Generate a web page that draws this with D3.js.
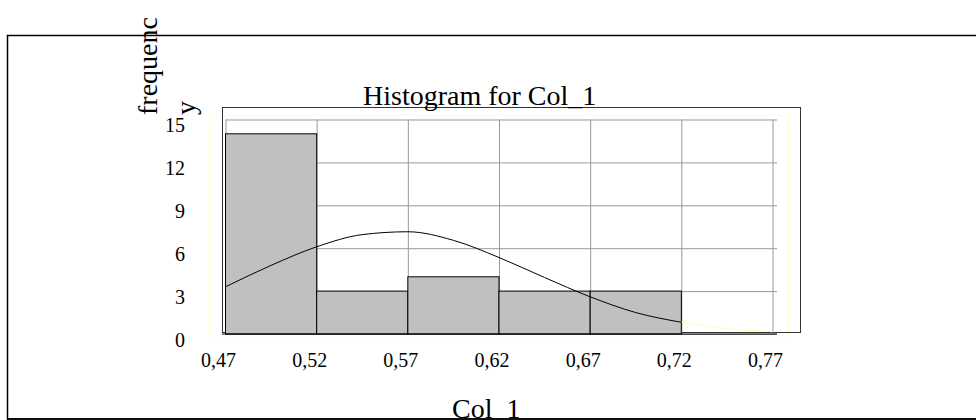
<!DOCTYPE html>
<html>
  <head>
    <meta charset="utf-8" />
    <title>Histogram for Col_1</title>
    <script src="https://d3js.org/d3.v7.min.js"></script>
    <style>
      body {
        margin: 0;
        background: #fff;
      }
      svg text {
        font-family: "Liberation Serif", "Times New Roman", serif;
        fill: #000;
      }
      .grid line {
        stroke: #999;
        stroke-width: 1;
      }
      .grid .domain {
        display: none;
      }
      .bar {
        fill: #c0c0c0;
        stroke: #000;
        stroke-width: 1;
      }
    </style>
  </head>
  <body>
    <svg id="chart" width="976" height="420"></svg>

    <script>
      // bins of Col_1 and their counts
      const binStarts = [0.47, 0.52, 0.57, 0.62, 0.67, 0.72];
      const binWidth = 0.05;
      const counts = [14, 3, 4, 3, 3, 0];

      // fitted normal curve
      const curveX = [0.47, 0.495, 0.52, 0.545, 0.57, 0.595, 0.62, 0.645, 0.67, 0.695, 0.72];
      const curveY = [3.3, 4.8, 6.1, 6.95, 7.15, 6.55, 5.35, 3.95, 2.6, 1.5, 0.82];
      // pale tail past the last bin
      const tailX = [0.72, 0.745, 0.77];
      const tailY = [0.82, 0.38, 0.16];

      const xTicks = [0.47, 0.52, 0.57, 0.62, 0.67, 0.72, 0.77];
      const yTicks = [0, 3, 6, 9, 12, 15];

      const svg = d3.select("#chart");

      // outer frame (right side runs off the page)
      svg
        .append("path")
        .attr("d", "M990,35.5 L7.5,35.5 L7.5,419 L990,419")
        .attr("fill", "none")
        .attr("stroke", "#000")
        .attr("stroke-width", 1.5);

      const x = d3.scaleLinear().domain([0.47, 0.77]).range([225.5, 772.5]);
      const y = d3.scaleLinear().domain([0, 15]).range([334, 119.5]);

      // faint yellow plot-area outline
      svg
        .append("rect")
        .attr("x", 210.5)
        .attr("y", 115.5)
        .attr("width", 578)
        .attr("height", 224)
        .attr("fill", "none")
        .attr("stroke", "#ffffd0")
        .attr("stroke-width", 1);

      // plot frame
      svg
        .append("rect")
        .attr("x", 222.5)
        .attr("y", 107.5)
        .attr("width", 578)
        .attr("height", 225)
        .attr("fill", "none")
        .attr("stroke", "#333")
        .attr("stroke-width", 1);

      // horizontal grid + y labels
      const yAxis = svg
        .append("g")
        .attr("class", "grid")
        .attr("transform", "translate(225.5,0)")
        .call(
          d3
            .axisLeft(y)
            .tickValues(yTicks)
            .tickSize(-(777 - 225.5))
            .tickPadding(40.5)
        );
      yAxis
        .selectAll("text")
        .attr("dy", "0.6em")
        .style("font-size", "20px");

      // vertical grid + x labels
      const xAxis = svg
        .append("g")
        .attr("class", "grid")
        .attr("transform", "translate(0,334)")
        .call(
          d3
            .axisBottom(x)
            .tickValues(xTicks)
            .tickSize(-(334 - 119.5))
            .tickPadding(19)
            .tickFormat((d) => d3.format(".2f")(d).replace(".", ","))
        );
      xAxis
        .selectAll("text")
        .attr("x", -7.5)
        .style("font-size", "20px");

      // bars
      const bins = binStarts.map((s, i) => ({ x0: s, x1: s + binWidth, n: counts[i] }));
      svg
        .selectAll("rect.bar")
        .data(bins)
        .join("rect")
        .attr("class", "bar")
        .attr("x", (d) => x(d.x0))
        .attr("width", (d) => x(d.x1) - x(d.x0))
        .attr("y", (d) => y(d.n))
        .attr("height", (d) => y(0) - y(d.n));

      // baseline
      svg
        .append("line")
        .attr("x1", 222)
        .attr("x2", 777)
        .attr("y1", 334)
        .attr("y2", 334)
        .attr("stroke", "#000");

      const line = d3
        .line()
        .x((d) => x(d[0]))
        .y((d) => y(d[1]))
        .curve(d3.curveMonotoneX);

      svg
        .append("path")
        .datum(d3.zip(tailX, tailY))
        .attr("d", line)
        .attr("fill", "none")
        .attr("stroke", "#ffffb0")
        .attr("stroke-width", 1);

      svg
        .append("path")
        .datum(d3.zip(curveX, curveY))
        .attr("d", line)
        .attr("fill", "none")
        .attr("stroke", "#000")
        .attr("stroke-width", 1);

      // title
      svg
        .append("text")
        .attr("x", 363)
        .attr("y", 105)
        .style("font-size", "28px")
        .text("Histogram for Col_1");

      // y label, wrapped on two lines
      const yl = svg
        .append("text")
        .attr("transform", "translate(157,115) rotate(-90)")
        .style("font-size", "28px");
      yl.append("tspan").attr("x", 0).attr("y", 0).text("frequenc");
      yl.append("tspan").attr("x", 0).attr("y", 38).text("y");

      // x label
      svg
        .append("text")
        .attr("x", 452)
        .attr("y", 418)
        .style("font-size", "28px")
        .text("Col_1");

      // redraw bottom frame edge over the label
      svg
        .append("line")
        .attr("x1", 7)
        .attr("x2", 990)
        .attr("y1", 419)
        .attr("y2", 419)
        .attr("stroke", "#000")
        .attr("stroke-width", 1.5);
    </script>
  </body>
</html>
